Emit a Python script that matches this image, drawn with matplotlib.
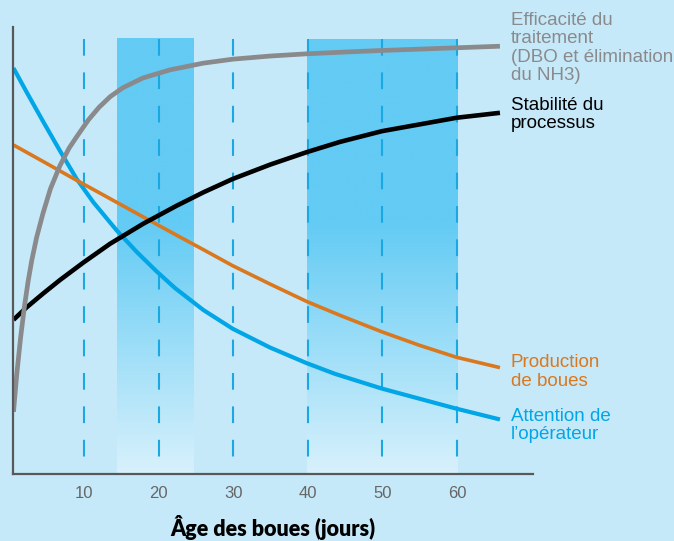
import numpy as np
import matplotlib
matplotlib.use("Agg")
import matplotlib.pyplot as plt

# ---- data ----
eff_x = [0.55, 1.0, 1.5, 2.0, 2.5, 3.0, 3.66, 4.5, 5.5, 6.78, 8.0, 9.0, 10.58, 12.0,
         13.5, 15.2, 17.9, 21.5, 25.95, 29.93, 34.93, 39.85, 44.32, 49.95, 59.96, 65.76]
eff_y = [13.9, 22.5, 30.5, 37.3, 43.0, 47.8, 53.0, 58.3, 63.8, 69.0, 72.9, 75.4, 79.2, 82.0,
         84.4, 86.4, 88.6, 90.4, 91.9, 92.8, 93.5, 94.0, 94.35, 94.75, 95.35, 95.7]

stab_x = [0.55, 2.32, 4.54, 6.78, 9.91, 13.49, 17.95, 22.40, 25.99, 29.93, 34.93, 39.85,
          44.32, 49.95, 59.96, 65.76]
stab_y = [34.5, 37.3, 40.4, 43.4, 47.3, 51.5, 56.0, 60.0, 63.0, 66.0, 69.2, 72.0,
          74.3, 76.7, 79.7, 80.8]

prod_x = [0.55, 4.54, 9.02, 13.49, 17.95, 22.33, 25.99, 29.93, 34.93, 39.85, 44.32,
          49.95, 54.96, 59.96, 65.76]
prod_y = [73.6, 69.9, 65.7, 61.6, 57.5, 53.5, 50.2, 46.6, 42.5, 38.6, 35.5,
          31.8, 28.8, 26.1, 23.8]

att_x = [0.55, 2.32, 4.54, 6.78, 9.02, 11.25, 14.38, 17.06, 19.75, 22.2, 25.99, 29.93,
         34.93, 39.85, 43.65, 49.95, 59.96, 65.76]
att_y = [90.8, 85.4, 78.8, 72.3, 66.0, 60.8, 54.5, 49.7, 45.3, 41.6, 36.7, 32.5,
         28.3, 24.8, 22.4, 19.1, 14.6, 12.2]

xticks = [10, 20, 30, 40, 50, 60]
bands = [(14.4, 24.6, 97.5), (39.9, 60.1, 97.1)]

labels = {
    "eff": "Efficacité du\ntraitement\n(DBO et élimination\ndu NH3)",
    "stab": "Stabilité du\nprocessus",
    "prod": "Production\nde boues",
    "att": "Attention de\nl’opérateur",
}
xlabel = "Âge des boues (jours)"

# ---- style ----
BG = "#c6e9f9"
GRAY = "#8a8a8d"
ORANGE = "#d9781f"
BLUE = "#00a6e6"
DASH = "#1aa8e2"
SPINE = "#58585a"

W, H = 674, 541
fig = plt.figure(figsize=(W / 100, H / 100), dpi=100, facecolor=BG)
ax = fig.add_axes([13 / W, 1 - 474 / H, 520 / W, 447 / H])
ax.set_facecolor(BG)
ax.set_xlim(0.483, 70.19)
ax.set_ylim(0, 100)

# gradient bands
top_c = np.array([99, 203, 244]) / 255
bot_c = np.array([216, 241, 252]) / 255
for x0, x1, ytop in bands:
    n = 256
    yy = np.linspace(ytop, 0, n)
    t = np.clip((56 - yy) / 56, 0, 1)
    cols = top_c[None, :] * (1 - t[:, None]) + bot_c[None, :] * t[:, None]
    img = cols[:, None, :].repeat(2, axis=1)
    ax.imshow(img, extent=[x0, x1, 0, ytop], aspect="auto", zorder=1,
              interpolation="bilinear", origin="upper")

# dashed verticals
lw_d = 1.5
dash_pt = 16.7 * 0.72
for xv in xticks:
    ax.plot([xv, xv], [97.3, 0], color=DASH, lw=lw_d,
            dashes=(dash_pt / lw_d, dash_pt / lw_d),
            dash_capstyle="butt", zorder=2)

common = dict(solid_capstyle="butt", solid_joinstyle="round")
ax.plot(att_x, att_y, color=BLUE, lw=3.0, zorder=3, **common)
ax.plot(prod_x, prod_y, color=ORANGE, lw=2.6, zorder=3, **common)
ax.plot(stab_x, stab_y, color="black", lw=3.3, zorder=4, **common)
ax.plot(eff_x, eff_y, color=GRAY, lw=3.4, zorder=5, **common)

for s in ["top", "right"]:
    ax.spines[s].set_visible(False)
for s in ["left", "bottom"]:
    ax.spines[s].set_color(SPINE)
    ax.spines[s].set_linewidth(1.6)
    ax.spines[s].set_zorder(6)

ax.set_xticks(xticks)
ax.set_xticklabels([str(v) for v in xticks], fontsize=12, color="#666666",
                   family="Liberation Sans")
ax.tick_params(axis="x", length=0, pad=9)
ax.set_yticks([])

fs = 13.5
kw = dict(fontsize=fs, family="Liberation Sans", ha="left", va="center", linespacing=1.12)
fig.text(511 / W, 1 - 48 / H, labels["eff"], color=GRAY, **kw)
fig.text(511 / W, 1 - 114.5 / H, labels["stab"], color="black", **kw)
fig.text(511 / W, 1 - 372 / H, labels["prod"], color=ORANGE, **kw)
fig.text(511 / W, 1 - 425.5 / H, labels["att"], color=BLUE, **kw)

fig.text(273 / W, 1 - 528 / H, xlabel, fontsize=15.5, fontweight="heavy",
         family="Lato", ha="center", va="center", color="black")

fig.savefig("out.png", dpi=100, facecolor=BG)
